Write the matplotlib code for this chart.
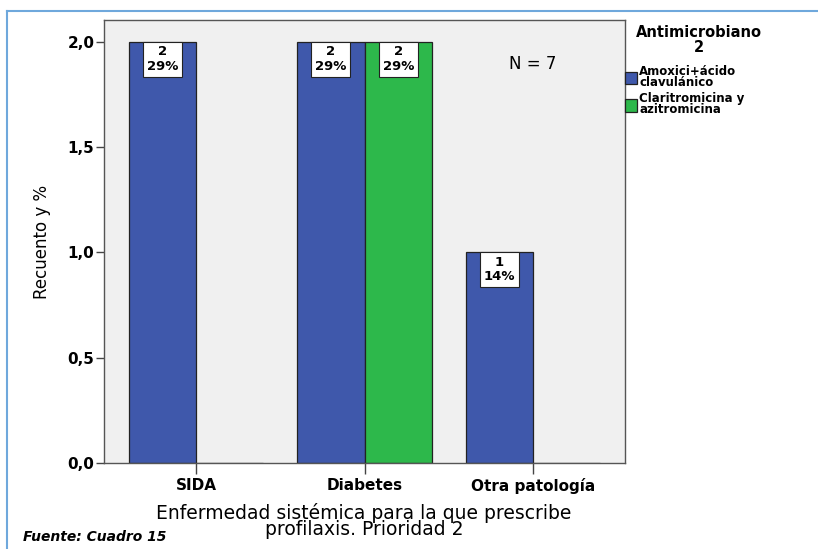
import matplotlib
matplotlib.use("Agg")
import matplotlib.pyplot as plt
from matplotlib.lines import Line2D
import numpy as np

plt.rcParams['font.family'] = ['DejaVu Sans']

categories = ["SIDA", "Diabetes", "Otra patología"]
series_names = ["Amoxici+ácido\nclavulánico", "Claritromicina y\nazitromicina"]
amoxi = [2, 2, 1]
clari = [0, 2, 0]
amoxi_pct = ["29%", "29%", "14%"]
clari_pct = ["", "29%", ""]
yticks = [0.0, 0.5, 1.0, 1.5, 2.0]
ytick_labels = ["0,0", "0,5", "1,0", "1,5", "2,0"]
n_total = 7

blue = "#3F58AB"
green = "#2DB84B"

fig = plt.figure(figsize=(8.18, 5.49), dpi=100)
ax = fig.add_axes([104/818, 1-463/549, (625-104)/818, (463-20)/549])
ax.set_facecolor("#F0F0F0")

x = np.arange(len(categories))
w = 0.4
b1 = ax.bar(x - w/2, amoxi, w, color=blue, edgecolor="#222222", linewidth=0.9, label=series_names[0])
b2 = ax.bar(x + w/2, clari, w, color=green, edgecolor="#222222", linewidth=0.9, label=series_names[1])

def label(bars, vals, pcts):
    for r, v, p in zip(bars, vals, pcts):
        if v <= 0:
            continue
        ax.annotate(f"{v}\n{p}", xy=(r.get_x() + r.get_width()/2, v), xytext=(0, -2.5),
                    textcoords="offset points", ha="center", va="top",
                    fontsize=9.5, fontweight="bold", linespacing=1.12,
                    bbox=dict(boxstyle="square,pad=0.3", fc="white", ec="#222222", lw=0.8))

label(b1, amoxi, amoxi_pct)
label(b2, clari, clari_pct)

ax.set_xlim(-0.546, 2.546)
ax.set_ylim(0, 2.1045)
ax.set_yticks(yticks)
ax.set_yticklabels(ytick_labels, fontsize=11, fontweight="bold")
ax.set_xticks(x)
ax.set_xticklabels(categories, fontsize=11, fontweight="bold")
ax.tick_params(axis="y", length=6, width=1, color="#444444", pad=1)
ax.tick_params(axis="x", length=8, width=1, color="#444444", pad=3)
for s in ax.spines.values():
    s.set_color("#555555")
    s.set_linewidth(1.0)

ax.set_ylabel("Recuento y %", fontsize=12, labelpad=12)
fig.text(364/818, 1-521/549, "Enfermedad sistémica para la que prescribe\nprofilaxis. Prioridad 2",
         fontsize=13.5, linespacing=0.82, ha="center", va="center")

ax.text(2, 1.895, f"N = {n_total}", ha="center", va="center", fontsize=12)

fig.text(699/818, 1-40/549, "Antimicrobiano\n2", fontsize=10.5, fontweight="bold",
         ha="center", va="center", multialignment="center", linespacing=0.95)
leg = fig.legend(handles=[b1, b2], loc="upper left", bbox_to_anchor=(625/818, 1-65/549),
                 frameon=False, fontsize=8.5,
                 handlelength=1.0, handleheight=1.25, handletextpad=0.2, labelspacing=0.3,
                 borderaxespad=0, borderpad=0)
for t in leg.get_texts():
    t.set_fontweight("bold")
    t.set_linespacing(0.78)

fig.text(23/818, 1-537/549, "Fuente: Cuadro 15", fontsize=10, fontweight="bold", style="italic",
         va="center", ha="left")

lc = "#6FA8DC"
fig.add_artist(Line2D([7/818, 1], [1-11/549, 1-11/549], color=lc, lw=1.5, transform=fig.transFigure))
fig.add_artist(Line2D([7/818, 7/818], [1-11/549, 0], color=lc, lw=1.5, transform=fig.transFigure))

fig.savefig("out.png", dpi=100)
